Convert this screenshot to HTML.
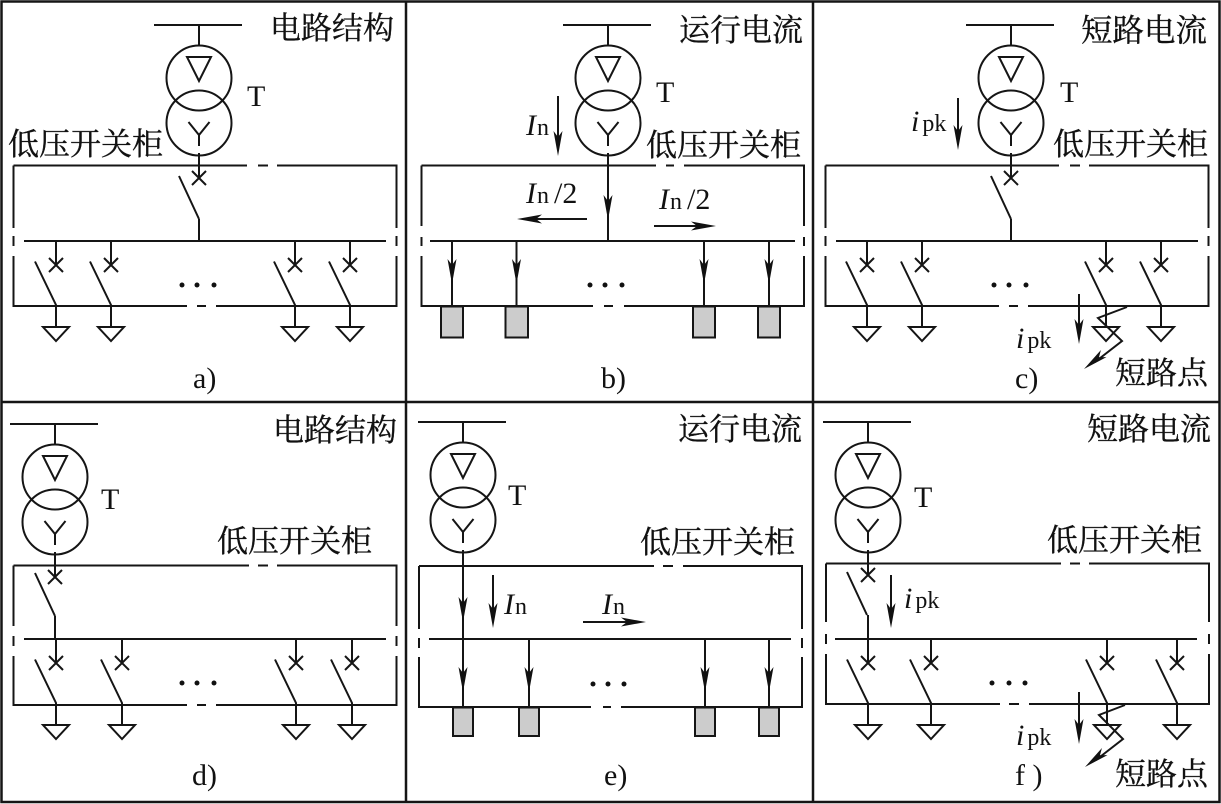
<!DOCTYPE html>
<html><head><meta charset="utf-8"><style>
html,body{margin:0;padding:0;background:#fff;width:1221px;height:804px;overflow:hidden}
svg{display:block}
.l{fill:none;stroke:#151515;stroke-width:2}
.t{font-family:"Liberation Serif",serif;fill:#111;font-size:30px}
.c{font-family:"Liberation Serif","Noto Serif CJK SC",serif;fill:#111;font-size:31px;stroke:#111;stroke-width:.35px}
.i{font-style:italic}
.s{font-size:24px}
</style></head><body>
<svg width="1221" height="804" viewBox="0 0 1221 804" xmlns="http://www.w3.org/2000/svg">
<defs>
<path id="ah" d="M0,0L-4.5,-25L0,-19L4.5,-25Z" fill="#111"/>
<g id="tf" class="l">
<path d="M-45,0H43M0,0V21"/>
<circle cx="0" cy="53" r="32.5"/><circle cx="0" cy="98" r="32.5"/>
<path d="M-12,32H12L0,56ZM-10.500,97L0,110L10.500,97M0,110V121M0,130.500V141"/>
</g>
<g id="sw" class="l">
<path d="M0,0V24M-7,17L7,31M7,17L-7,31M-21,20.500L0,64V86M-13,86H13L0,100Z"/>
</g>
</defs>
<rect width="1221" height="804" fill="#fff"/>
<path class="l" style="stroke-width:2.500" d="M1.500,1.500H1219.500V802H1.500ZM1.500,402H1219.500M406,1.500V802M813,1.500V802"/>

<!-- a -->
<use href="#tf" x="199" y="25"/>
<path class="l" d="M13.500,165.500H247M258,165.500H268M277,165.500H396.500V228M396.500,236V246M396.500,256V306H216M206,306H197M187,306H13.500V256M13.500,246V236M13.500,228V165.500M24,241H386M199,153V178M199,219V241M192,171L206,185M206,171L192,185M179,176L199,219"/>
<use href="#sw" x="56" y="241"/><use href="#sw" x="111" y="241"/><use href="#sw" x="295" y="241"/><use href="#sw" x="350" y="241"/>
<g fill="#111"><circle cx="182" cy="285" r="2.500"/><circle cx="197" cy="285" r="2.500"/><circle cx="214" cy="285" r="2.500"/></g>
<text class="c" x="270" y="39">电路结构</text>
<text class="c" x="8" y="155">低压开关柜</text>
<text class="t" x="247" y="106">T</text>
<text class="t" x="193" y="388">a)</text>

<!-- b -->
<use href="#tf" x="608" y="25"/>
<path class="l" d="M421.500,165.500H656M666,165.500H674M684,165.500H804V226M804,237V246M804,256V306H624M613,306H604M593,306H421.500V256M421.500,246V237M421.500,226V165.500M430,241H795M608,153V241M452,241V306M516.500,241V306M704,241V306M769,241V306M558,96V150M587,219H525M654,226H710"/>
<use href="#ah" transform="translate(608,220)"/>
<use href="#ah" transform="translate(452,284)"/><use href="#ah" transform="translate(516.500,284)"/><use href="#ah" transform="translate(704,284)"/><use href="#ah" transform="translate(769,284)"/>
<use href="#ah" transform="translate(558,156)"/>
<use href="#ah" transform="translate(517,219) rotate(90)"/>
<use href="#ah" transform="translate(716,226) rotate(-90)"/>
<path d="M441,306.500H463V337.500H441ZM505.500,306.500H528V337.500H505.500ZM693,306.500H715V337.500H693ZM758,306.500H780V337.500H758Z" fill="#ccc" stroke="#151515" stroke-width="2"/>
<g fill="#111"><circle cx="590" cy="285" r="2.500"/><circle cx="605" cy="285" r="2.500"/><circle cx="622" cy="285" r="2.500"/></g>
<text class="c" x="679" y="41">运行电流</text>
<text class="c" x="646" y="156">低压开关柜</text>
<text class="t" x="656" y="102">T</text>
<text class="t" x="526" y="135"><tspan class="i">I</tspan><tspan class="s" dx="1">n</tspan></text>
<text class="t" x="526" y="203"><tspan class="i">I</tspan><tspan class="s" dx="1">n</tspan><tspan dx="5">/2</tspan></text>
<text class="t" x="659" y="209"><tspan class="i">I</tspan><tspan class="s" dx="1">n</tspan><tspan dx="5">/2</tspan></text>
<text class="t" x="601" y="388">b)</text>

<!-- c -->
<use href="#tf" x="1011" y="25"/>
<path class="l" d="M825.500,165.500H1059M1070,165.500H1080M1089,165.500H1208.500V228M1208.500,236V246M1208.500,256V306H1028M1018,306H1009M999,306H825.500V256M825.500,246V236M825.500,228V165.500M836,241H1198M1011,153V178M1011,219V241M1004,171L1018,185M1018,171L1004,185M991,176L1011,219"/>
<use href="#sw" x="867" y="241"/><use href="#sw" x="922" y="241"/><use href="#sw" x="1106" y="241"/><use href="#sw" x="1161" y="241"/>
<path class="l" d="M1127,307L1098,318L1122,341L1095,362M1079,294V336M958,98V143"/>
<use href="#ah" transform="translate(1084,369) rotate(52)"/>
<use href="#ah" transform="translate(1079,344)"/>
<use href="#ah" transform="translate(958,150)"/>
<g fill="#111"><circle cx="994" cy="285" r="2.500"/><circle cx="1009" cy="285" r="2.500"/><circle cx="1026" cy="285" r="2.500"/></g>
<text class="c" x="1081" y="41" style="font-size:31.500px">短路电流</text>
<text class="c" x="1053" y="155">低压开关柜</text>
<text class="c" x="1115" y="384">短路点</text>
<text class="t" x="1060" y="102">T</text>
<text class="t" x="911" y="131"><tspan class="i">i</tspan><tspan class="s" dx="3">pk</tspan></text>
<text class="t" x="1016" y="348"><tspan class="i">i</tspan><tspan class="s" dx="3">pk</tspan></text>
<text class="t" x="1015" y="388">c)</text>

<!-- d -->
<use href="#tf" x="55" y="424"/>
<path class="l" d="M13.500,565.500H249M258,565.500H268M277,565.500H396.500V626M396.500,636V646M396.500,656V705H216M206,705H197M187,705H13.500V656M13.500,646V636M13.500,626V565.500M24,639H386M55,552V577M55,616V639M48,570L62,584M62,570L48,584M35,573L55,616"/>
<use href="#sw" x="56" y="639"/><use href="#sw" x="122" y="639"/><use href="#sw" x="296" y="639"/><use href="#sw" x="352" y="639"/>
<g fill="#111"><circle cx="182" cy="683" r="2.500"/><circle cx="197" cy="683" r="2.500"/><circle cx="214" cy="683" r="2.500"/></g>
<text class="c" x="273" y="441">电路结构</text>
<text class="c" x="217" y="552">低压开关柜</text>
<text class="t" x="101" y="509">T</text>
<text class="t" x="192" y="785">d)</text>

<!-- e -->
<use href="#tf" x="463" y="422"/>
<path class="l" d="M419,566H654M663,566H673M683,566H802V629M802,638V648M802,657V707H621M611,707H603M591,707H419V657M419,648V638M419,629V566M429,639H791M463,550V707M529,639V707M705,639V707M769,639V707M493,575V622M583,622H640"/>
<use href="#ah" transform="translate(463,622)"/><use href="#ah" transform="translate(463,692)"/>
<use href="#ah" transform="translate(529,692)"/><use href="#ah" transform="translate(705,692)"/><use href="#ah" transform="translate(769,692)"/>
<use href="#ah" transform="translate(493,628)"/>
<use href="#ah" transform="translate(646,622) rotate(-90)"/>
<path d="M453,707.500H473V736H453ZM519,707.500H539V736H519ZM695,707.500H715V736H695ZM759,707.500H779V736H759Z" fill="#ccc" stroke="#151515" stroke-width="2"/>
<g fill="#111"><circle cx="593" cy="684" r="2.500"/><circle cx="608" cy="684" r="2.500"/><circle cx="624" cy="684" r="2.500"/></g>
<text class="c" x="678" y="440">运行电流</text>
<text class="c" x="640" y="553">低压开关柜</text>
<text class="t" x="508" y="505">T</text>
<text class="t" x="504" y="614"><tspan class="i">I</tspan><tspan class="s" dx="1">n</tspan></text>
<text class="t" x="602" y="614"><tspan class="i">I</tspan><tspan class="s" dx="1">n</tspan></text>
<text class="t" x="604" y="785">e)</text>

<!-- f -->
<use href="#tf" x="868" y="422"/>
<path class="l" d="M826,563.500H1061M1070,563.500H1080M1089,563.500H1209V622M1209,634V644M1209,654V704H1029M1019,704H1009M1000,704H826V654M826,644V634M826,622V563.500M835,639H1197M868,550V575M868,615V639M861,568L875,582M875,568L861,582M847,572L867,615M1125,705L1099,715L1123,739L1096,760M1079,692V736M891,575V622"/>
<use href="#sw" x="868" y="639"/><use href="#sw" x="931" y="639"/><use href="#sw" x="1107" y="639"/><use href="#sw" x="1177" y="639"/>
<use href="#ah" transform="translate(1085,767) rotate(52)"/>
<use href="#ah" transform="translate(1079,744)"/>
<use href="#ah" transform="translate(891,628)"/>
<g fill="#111"><circle cx="992" cy="683" r="2.500"/><circle cx="1009" cy="683" r="2.500"/><circle cx="1025" cy="683" r="2.500"/></g>
<text class="c" x="1087" y="440">短路电流</text>
<text class="c" x="1047" y="551">低压开关柜</text>
<text class="c" x="1115" y="785">短路点</text>
<text class="t" x="914" y="507">T</text>
<text class="t" x="904" y="608"><tspan class="i">i</tspan><tspan class="s" dx="3">pk</tspan></text>
<text class="t" x="1016" y="745"><tspan class="i">i</tspan><tspan class="s" dx="3">pk</tspan></text>
<text class="t" x="1015" y="785">f )</text>
</svg>
</body></html>
